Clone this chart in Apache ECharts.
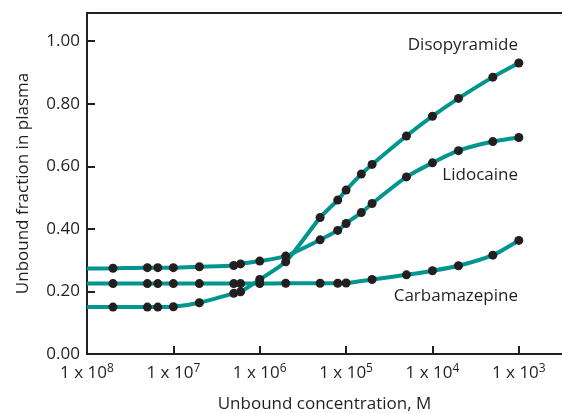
<!DOCTYPE html>
<html>
<head>
<meta charset="utf-8">
<script src="https://cdn.jsdelivr.net/npm/echarts@6/dist/echarts.min.js"></script>
<style>
html,body{margin:0;padding:0;background:#fff;}
#c{width:562px;height:413px;}
</style>
</head>
<body>
<div id="c"></div>
<script>
// Concentrations (M) at measured points
const concDiso = [2e-8,5e-8,6.6e-8,1e-7,2e-7,5e-7,6e-7,1e-6,2e-6,5e-6,8e-6,1e-5,1.5e-5,2e-5,5e-5,1e-4,2e-4,5e-4,1e-3];
const fracDiso = [0.150,0.150,0.150,0.151,0.164,0.194,0.199,0.238,0.295,0.436,0.492,0.524,0.575,0.606,0.697,0.760,0.817,0.885,0.930];

const concLido = [2e-8,5e-8,6.6e-8,1e-7,2e-7,5e-7,6e-7,1e-6,2e-6,5e-6,8e-6,1e-5,1.5e-5,2e-5,5e-5,1e-4,2e-4,5e-4,1e-3];
const fracLido = [0.274,0.276,0.276,0.276,0.279,0.283,0.288,0.297,0.313,0.365,0.395,0.417,0.452,0.481,0.566,0.611,0.650,0.679,0.692];

const concCarb = [2e-8,5e-8,6.6e-8,1e-7,2e-7,5e-7,6e-7,1e-6,2e-6,5e-6,8e-6,1e-5,2e-5,5e-5,1e-4,2e-4,5e-4,1e-3];
const fracCarb = [0.225,0.225,0.225,0.225,0.225,0.225,0.225,0.225,0.226,0.226,0.226,0.227,0.238,0.253,0.266,0.282,0.316,0.363];

// Curve start values at the left edge (1e-8 M)
const startConc = 1e-8;
const startDiso = 0.150, startLido = 0.273, startCarb = 0.225;

const drugNames = ['Disopyramide','Lidocaine','Carbamazepine'];
const xTickExps = [-8,-7,-6,-5,-4,-3];
const yTicks = [0,0.2,0.4,0.6,0.8,1.0];

const TEAL = '#00968f', DARK = '#231f20', FONT = '"Open Sans", sans-serif';

function pts(conc, frac){ return conc.map((c,i)=>[Math.log10(c), frac[i]]); }
function curve(conc, frac, s){ return [[Math.log10(startConc), s]].concat(pts(conc, frac)); }

const lineBase = {type:'line', smooth:0.2, showSymbol:false, lineStyle:{color:TEAL,width:4}, z:2, silent:true};
const dotBase = {type:'scatter', symbolSize:9, itemStyle:{color:DARK, opacity:1}, z:3, silent:true};

const chart = echarts.init(document.getElementById('c'), null, {renderer:'canvas'});
chart.setOption({
  animation:false,
  textStyle:{fontFamily:FONT},
  grid:{left:87, right:0, top:13, bottom:59, containLabel:false, outerBoundsMode:'none'},
  xAxis:[{
    type:'value', min:-8, max:-2.5, interval:1,
    axisLine:{show:true, lineStyle:{color:DARK,width:2}},
    axisTick:{show:true, inside:true, length:8, lineStyle:{color:DARK,width:2}, customValues:xTickExps},
    splitLine:{show:false},
    axisLabel:{customValues:xTickExps, margin:9, color:DARK, fontFamily:FONT,
      formatter:v=>'{b|1 x 10}{s|'+Math.round(-v)+'}',
      rich:{b:{fontSize:17, lineHeight:20, color:DARK, fontFamily:FONT},
            s:{fontSize:12, lineHeight:12, verticalAlign:'top', color:DARK, fontFamily:FONT}}},
    name:'Unbound concentration, M', nameLocation:'middle', nameGap:42,
    nameTextStyle:{fontSize:17, color:DARK, fontFamily:FONT}
  },{
    type:'value', min:-8, max:-2.5, position:'top',
    axisLine:{show:true, lineStyle:{color:DARK,width:2}},
    axisTick:{show:false}, axisLabel:{show:false}, splitLine:{show:false}
  }],
  yAxis:{
    type:'value', min:0, max:1.09,
    axisLine:{show:true, lineStyle:{color:DARK,width:2}},
    axisTick:{show:true, inside:true, length:8, lineStyle:{color:DARK,width:2}, customValues:yTicks},
    splitLine:{show:false},
    axisLabel:{customValues:yTicks, margin:7, fontSize:17, color:DARK, fontFamily:FONT, formatter:v=>v.toFixed(2)},
    name:'Unbound fraction in plasma', nameLocation:'middle', nameGap:55,
    nameTextStyle:{fontSize:17, color:DARK, fontFamily:FONT}
  },
  series:[
    Object.assign({}, lineBase, {name:drugNames[0], data:curve(concDiso, fracDiso, startDiso)}),
    Object.assign({}, lineBase, {name:drugNames[1], data:curve(concLido, fracLido, startLido)}),
    Object.assign({}, lineBase, {name:drugNames[2], data:curve(concCarb, fracCarb, startCarb)}),
    Object.assign({}, dotBase, {data:pts(concDiso, fracDiso)}),
    Object.assign({}, dotBase, {data:pts(concLido, fracLido)}),
    Object.assign({}, dotBase, {data:pts(concCarb, fracCarb)})
  ],
  graphic:[
    {type:'text', right:562-518, top:37, style:{text:drugNames[0], fontSize:17, fill:DARK, fontFamily:FONT}},
    {type:'text', right:562-518, top:167, style:{text:drugNames[1], fontSize:17, fill:DARK, fontFamily:FONT}},
    {type:'text', right:562-518, top:288, style:{text:drugNames[2], fontSize:17, fill:DARK, fontFamily:FONT}}
  ]
});
</script>
</body>
</html>
